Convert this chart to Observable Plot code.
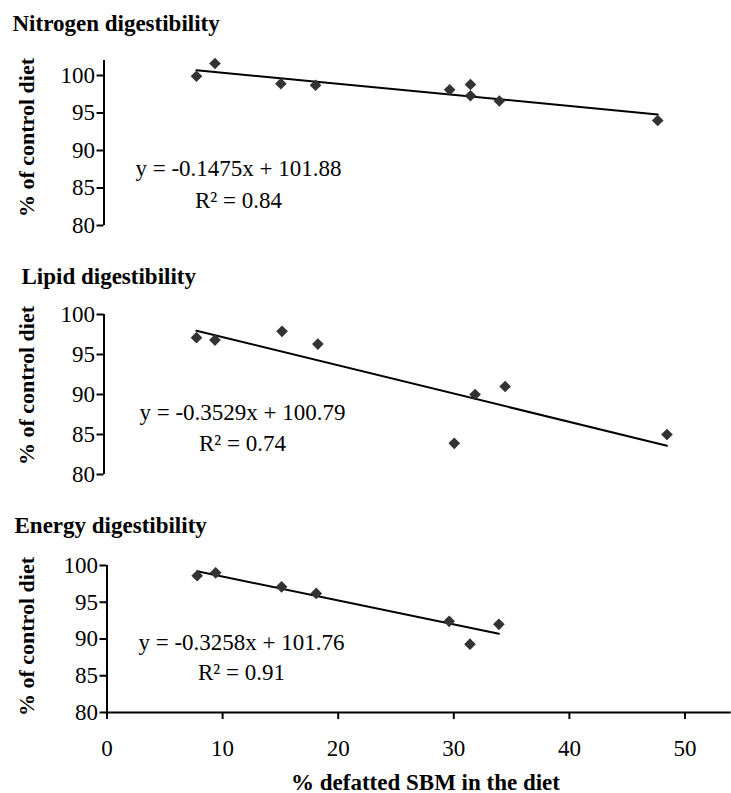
<!DOCTYPE html>
<html>
<head>
<meta charset="utf-8">
<script src="https://cdn.jsdelivr.net/npm/d3@7"></script>
<script src="https://cdn.jsdelivr.net/npm/@observablehq/plot@0.6"></script>
<style>
  body { margin: 0; background: #fff; }
  #chart { position: relative; width: 731px; height: 793px; overflow: hidden; background: #fff; }
  #chart svg { position: absolute; left: 0; }
</style>
</head>
<body>
<div id="chart"></div>
<script>
// ---- Data ----
const panelTitles = ["Nitrogen digestibility", "Lipid digestibility", "Energy digestibility"];
const yAxisLabel = "% of control diet";
const xAxisLabel = "% defatted SBM in the diet";
const xTicks = [0, 10, 20, 30, 40, 50];
const yTicks = [80, 85, 90, 95, 100];

const nitrogenX = [8.0, 9.6, 15.3, 18.3, 29.9, 31.7, 31.7, 34.2, 47.9];
const nitrogenY = [99.9, 101.6, 98.9, 98.7, 98.1, 98.8, 97.3, 96.6, 94.0];

const lipidX = [8.0, 9.6, 15.4, 18.5, 30.3, 32.1, 34.7, 48.7];
const lipidY = [97.1, 96.8, 97.9, 96.3, 83.9, 90.0, 91.0, 85.0];

const energyX = [7.8, 9.4, 15.1, 18.1, 29.6, 31.4, 33.9];
const energyY = [98.6, 99.0, 97.1, 96.2, 92.4, 89.3, 92.0];

const slopes = [-0.1475, -0.3529, -0.3258];
const intercepts = [101.88, 100.79, 101.76];
const equationLabels = ["y = -0.1475x + 101.88", "y = -0.3529x + 100.79", "y = -0.3258x + 101.76"];
const r2Labels = ["R² = 0.84", "R² = 0.74", "R² = 0.91"];

// ---- Layout (page coordinates) ----
const W = 731;
const pxPerUnit = 11.56;
const xMax = 54;
const layout = [
  {top: 0,   height: 240, mTop: 60, mBottom: 15, mLeft: 103.5, yMax: 102, xAxis: false,
   titleX: 12, titleBase: 30,  eqX: 238, eqY: 168, r2Y: 200, labelY: 137},
  {top: 240, height: 245, mTop: 74, mBottom: 11, mLeft: 103.5, yMax: 100, xAxis: false,
   titleX: 21, titleBase: 283, eqX: 242, eqY: 412, r2Y: 443, labelY: 385},
  {top: 485, height: 308, mTop: 80, mBottom: 81, mLeft: 106.5, yMax: 100, xAxis: true,
   titleX: 14, titleBase: 532, eqX: 241, eqY: 642, r2Y: 672, labelY: 636}
];
const seriesX = [nitrogenX, lipidX, energyX];
const seriesY = [nitrogenY, lipidY, energyY];

const chart = document.getElementById("chart");

layout.forEach((L, i) => {
  const pts = seriesX[i].map((x, k) => ({x, y: seriesY[i][k]}));
  const xLo = d3.min(seriesX[i]), xHi = d3.max(seriesX[i]);
  const fit = [xLo, xHi].map(x => ({x, y: slopes[i] * x + intercepts[i]}));
  const mRight = W - L.mLeft - xMax * pxPerUnit;
  const frameBottom = L.height - L.mBottom;

  const marks = [
    Plot.ruleX([0], {y1: 80, y2: L.yMax, stroke: "#000", strokeWidth: 2}),
    Plot.axisY({ticks: yTicks, tickSize: 7, tickPadding: 2, strokeWidth: 2, fontSize: 23,
                tickFormat: d => String(d), label: null}),
    Plot.line(fit, {x: "x", y: "y", stroke: "#000", strokeWidth: 2}),
    Plot.dot(pts, {x: "x", y: "y", symbol: "square", rotate: 45, r: 4.65, fill: "#333", stroke: "none"}),
    Plot.text([panelTitles[i]], {frameAnchor: "top-left", dx: L.titleX - L.mLeft, dy: (L.titleBase - L.top) - L.mTop,
               textAnchor: "start", lineAnchor: "bottom", fontWeight: "bold", fontSize: 23}),
    Plot.text([yAxisLabel], {frameAnchor: "top-left", dx: 26 - L.mLeft, dy: (L.labelY - L.top) - L.mTop,
               rotate: -90, textAnchor: "middle", lineAnchor: "middle", fontWeight: "bold", fontSize: 22}),
    Plot.text([equationLabels[i]], {frameAnchor: "top-left", dx: L.eqX - L.mLeft, dy: (L.eqY - L.top) - L.mTop,
               textAnchor: "middle", lineAnchor: "middle", fontSize: 23}),
    Plot.text([r2Labels[i]], {frameAnchor: "top-left", dx: L.eqX - L.mLeft, dy: (L.r2Y - L.top) - L.mTop,
               textAnchor: "middle", lineAnchor: "middle", fontSize: 23})
  ];
  if (L.xAxis) {
    marks.push(
      Plot.ruleY([80], {stroke: "#000", strokeWidth: 2}),
      Plot.axisX({ticks: xTicks, tickSize: 7, tickPadding: 20.5, strokeWidth: 2, fontSize: 23,
                  tickFormat: d => String(d), label: null}),
      Plot.text([xAxisLabel], {frameAnchor: "bottom-left", dx: 425 - L.mLeft, dy: (789 - L.top) - frameBottom,
                 textAnchor: "middle", lineAnchor: "bottom", fontWeight: "bold", fontSize: 23})
    );
  } else {
    marks.push(Plot.axisX({ticks: [], label: null, tickSize: 0}));
  }

  const svg = Plot.plot({
    width: W,
    height: L.height,
    marginTop: L.mTop,
    marginBottom: L.mBottom,
    marginLeft: L.mLeft,
    marginRight: mRight,
    x: {domain: [0, xMax]},
    y: {domain: [80, L.yMax]},
    style: {fontFamily: "'Liberation Serif', 'Times New Roman', serif", fontSize: "23px", color: "#000", background: "transparent", overflow: "visible"},
    marks
  });
  svg.style.top = L.top + "px";
  chart.appendChild(svg);
});
</script>
</body>
</html>
